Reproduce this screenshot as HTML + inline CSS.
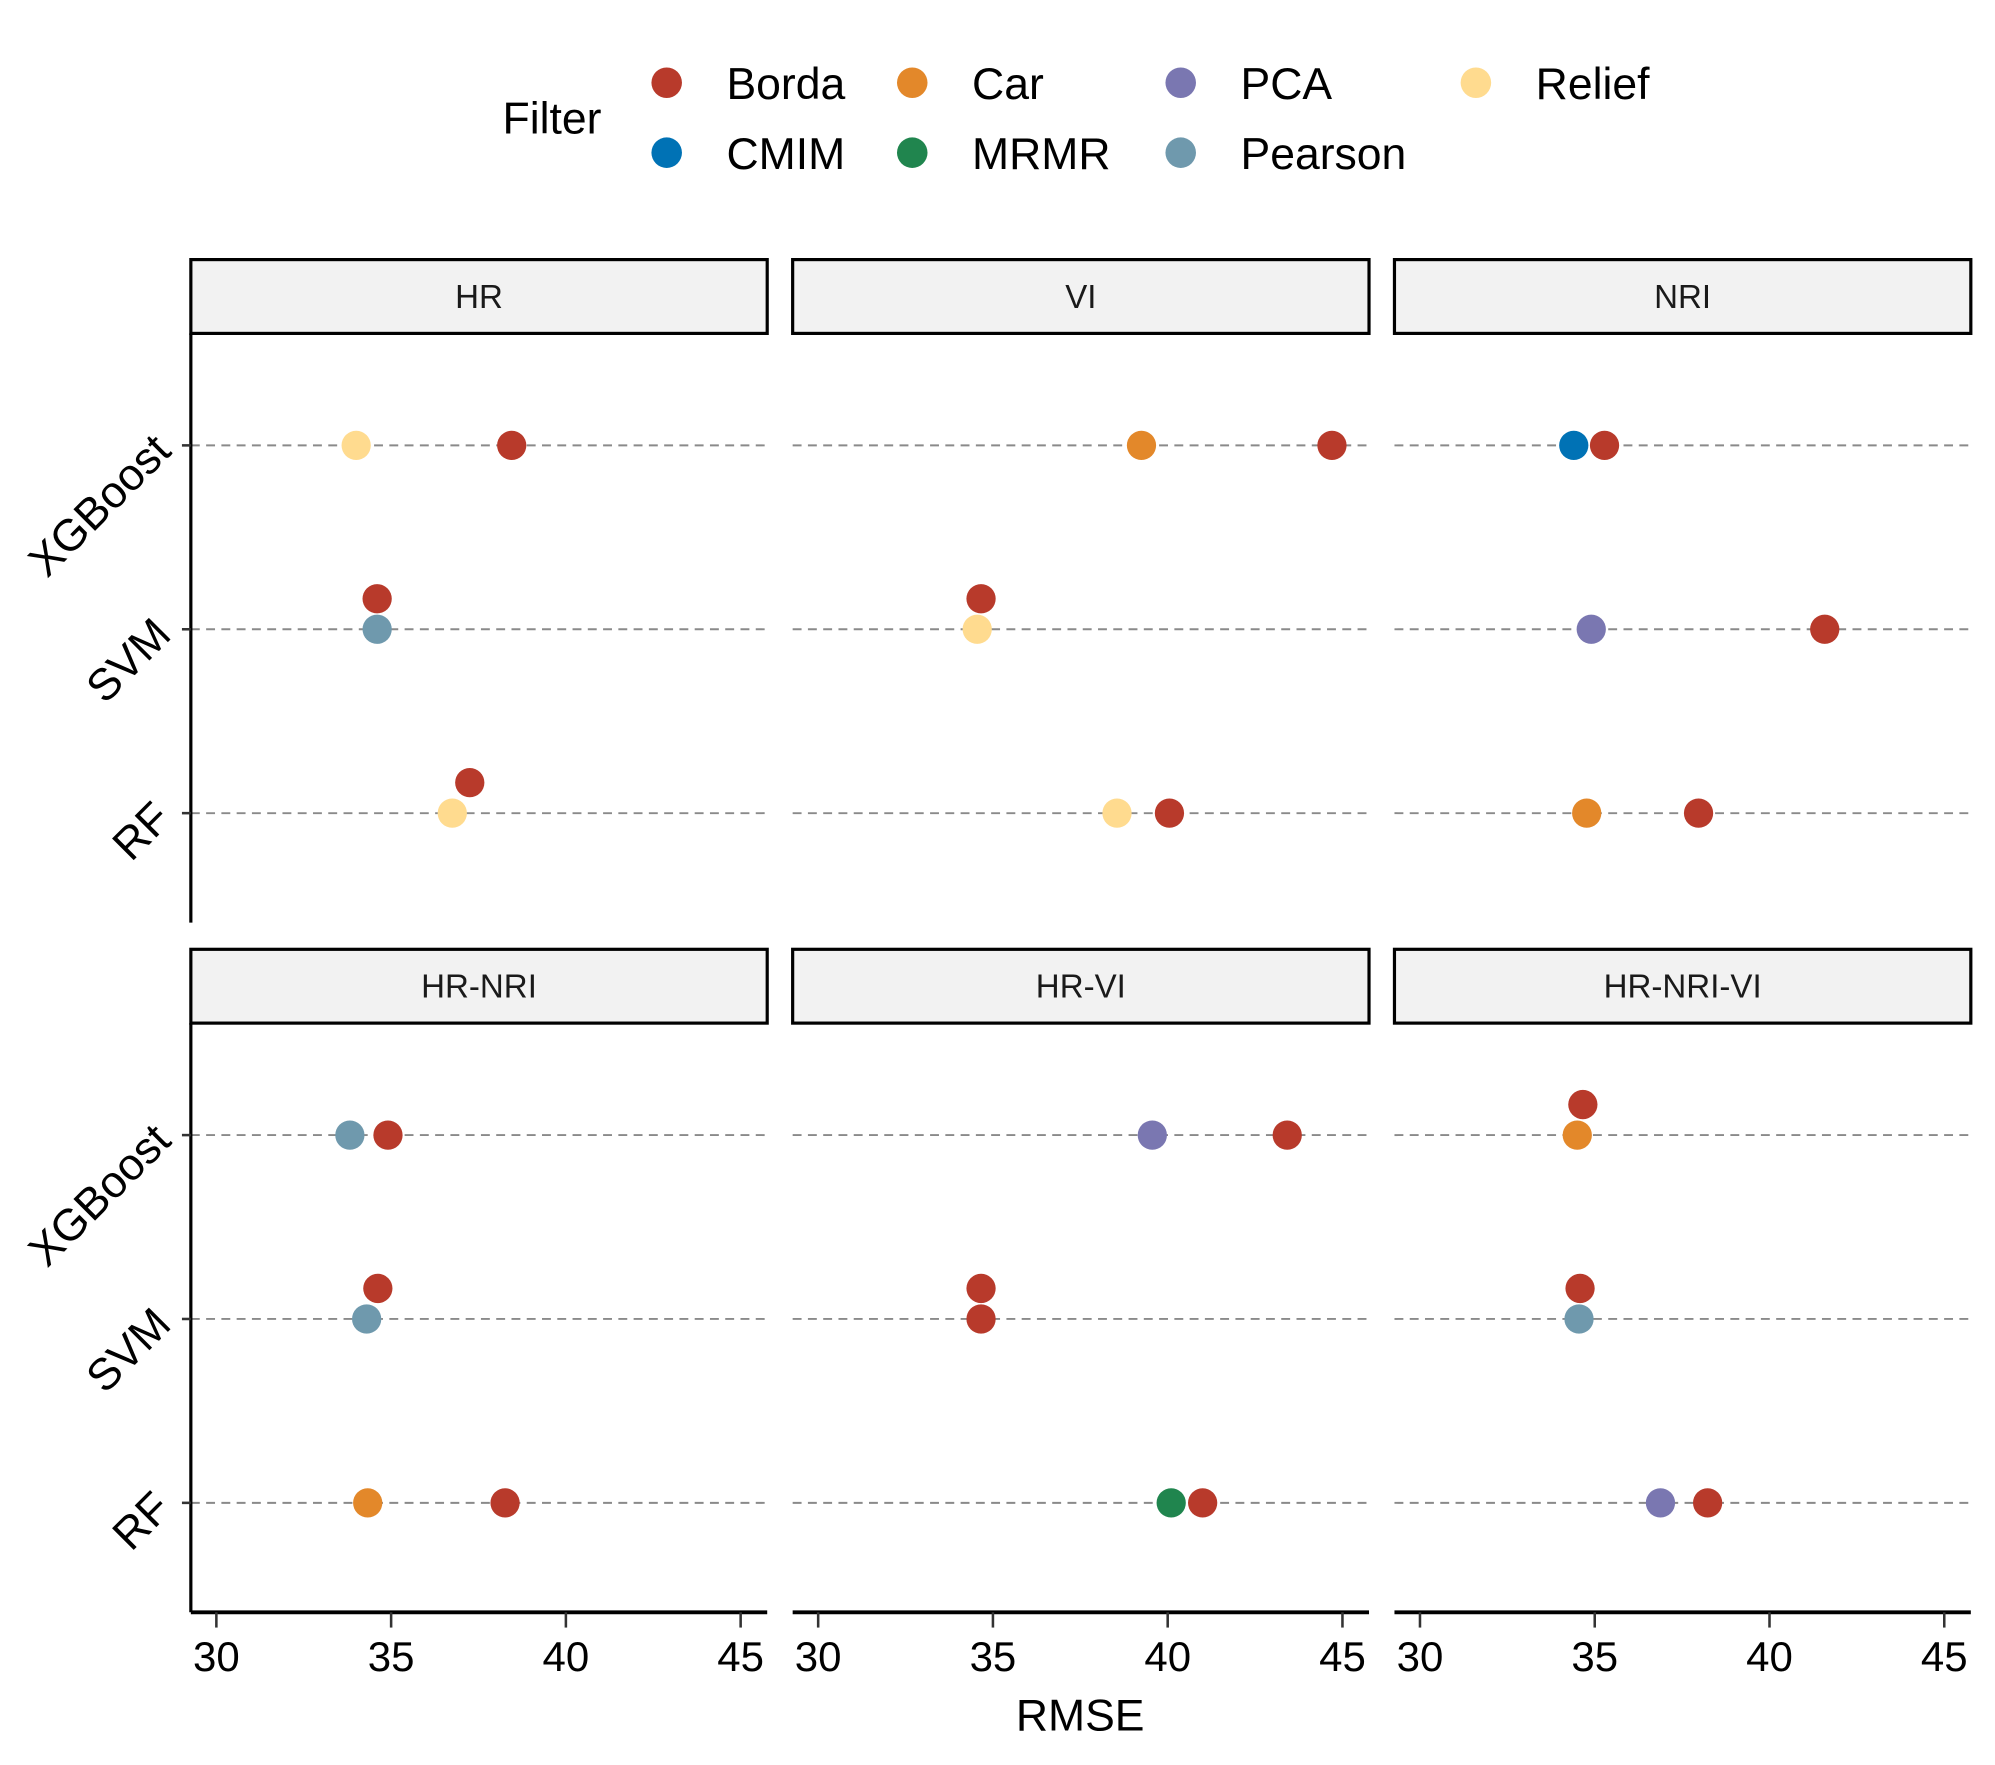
<!DOCTYPE html>
<html><head><meta charset="utf-8"><style>html,body{margin:0;padding:0;background:#fff}svg{display:block;font-family:"Liberation Sans",sans-serif}</style></head>
<body>
<svg id="chart" width="1995" height="1765" viewBox="0 0 1568 1387" preserveAspectRatio="none" xmlns="http://www.w3.org/2000/svg"></svg>
<script>
const panels = ["HR","VI","NRI","HR-NRI","HR-VI","HR-NRI-VI"];
const models = ["XGBoost","SVM","RF"];
const filters = ["Borda","Car","PCA","Relief","CMIM","MRMR","Pearson"];
const filterColors = ["#B83A2B","#E3882A","#7A77B1","#FFDB8F","#0072B5","#20854E","#6F99AD"];
const xTicks = [30,35,40,45];
const ptPanel = ["HR","HR","HR","HR","HR","HR","VI","VI","VI","VI","VI","VI","NRI","NRI","NRI","NRI","NRI","NRI","HR-NRI","HR-NRI","HR-NRI","HR-NRI","HR-NRI","HR-NRI","HR-VI","HR-VI","HR-VI","HR-VI","HR-VI","HR-VI","HR-NRI-VI","HR-NRI-VI","HR-NRI-VI","HR-NRI-VI","HR-NRI-VI","HR-NRI-VI"];
const ptModel = ["XGBoost","XGBoost","SVM","SVM","RF","RF","XGBoost","XGBoost","SVM","SVM","RF","RF","XGBoost","XGBoost","SVM","SVM","RF","RF","XGBoost","XGBoost","SVM","SVM","RF","RF","XGBoost","XGBoost","SVM","SVM","RF","RF","XGBoost","XGBoost","SVM","SVM","RF","RF"];
const ptFilter = ["Relief","Borda","Pearson","Borda","Relief","Borda","Car","Borda","Relief","Borda","Relief","Borda","CMIM","Borda","PCA","Borda","Car","Borda","Pearson","Borda","Pearson","Borda","Car","Borda","PCA","Borda","Borda","Borda","MRMR","Borda","Car","Borda","Pearson","Borda","PCA","Borda"];
const ptRMSE = [34.0,38.45,34.6,34.6,36.75,37.25,39.25,44.7,34.55,34.66,38.55,40.05,34.4,35.28,34.9,41.58,34.77,37.97,33.82,34.91,34.3,34.62,34.33,38.26,39.56,43.42,34.66,34.66,40.1,41.0,34.5,34.66,34.55,34.58,36.88,38.23];

const NS="http://www.w3.org/2000/svg";
const svg=document.getElementById('chart');
function mk(tag,attrs,parent){const e=document.createElementNS(NS,tag);for(const k in attrs)e.setAttribute(k,attrs[k]);(parent||svg).appendChild(e);return e;}
const colX=[150,623,1096], PW=453;
const rowTop=[204,746], stripH=58, PH=463;
const xMin=29.27,xMax=45.76;
function xScale(c,v){return colX[c]+(v-xMin)/(xMax-xMin)*PW;}
function yScale(r,m){return rowTop[r]+stripH+88+models.indexOf(m)*144.5;}

let t=mk('text',{x:395,y:105,'font-size':35,fill:'#000'});t.textContent='Filter';


const legX=[524,717,928,1160];
const legOrder=[["Borda",0,0],["Car",1,0],["PCA",2,0],["Relief",3,0],["CMIM",0,1],["MRMR",1,1],["Pearson",2,1]];
legOrder.forEach(([f,c,r])=>{
  const g=mk('g',{});
  
  
  mk('circle',{cx:legX[c],cy:65+r*55,r:12,fill:filterColors[filters.indexOf(f)]},g);
  const tt=mk('text',{x:legX[c]+47,y:78+r*55,'font-size':35,fill:'#000'},g);tt.textContent=f;
});

panels.forEach((p,i)=>{
  const c=i%3,r=Math.floor(i/3);const x0=colX[c],top=rowTop[r];
  const g=mk('g',{});
  
  
  const s=mk('rect',{x:x0,y:top,width:PW,height:stripH,fill:'#F2F2F2',stroke:'#000','stroke-width':2.5},g);
  
  
  const st=mk('text',{x:x0+PW/2,y:top+38,'font-size':26,'text-anchor':'middle',fill:'#1a1a1a'},g);st.textContent=p;
  const pt=top+stripH;
  models.forEach(m=>{
    const y=yScale(r,m);
    const l=mk('line',{x1:x0,x2:x0+PW,y1:y,y2:y,stroke:'#8a8a8a','stroke-width':1.5,'stroke-dasharray':'7,5'},g);
    
    
  });
  if(c===0){
    mk('line',{x1:x0,x2:x0,y1:pt,y2:pt+PH,stroke:'#000','stroke-width':2.5},g);
    models.forEach(m=>{const y=yScale(r,m);
      mk('line',{x1:x0-7,x2:x0,y1:y,y2:y,stroke:'#333','stroke-width':2},g);
      const lt=mk('text',{x:0,y:0,'font-size':35,'text-anchor':'end',fill:'#000',transform:`translate(${x0-14},${y+6}) rotate(-45)`},g);
      lt.textContent=m;
      
      
    });
  }
  if(r===1){
    const ax=pt+PH;
    mk('line',{x1:x0,x2:x0+PW,y1:ax,y2:ax,stroke:'#000','stroke-width':3},g);
    xTicks.forEach(v=>{const x=xScale(c,v);
      mk('line',{x1:x,x2:x,y1:ax,y2:ax+12,stroke:'#333','stroke-width':2},g);
      const tl=mk('text',{x:x,y:ax+46,'font-size':33,'text-anchor':'middle',fill:'#000'},g);tl.textContent=v;
      
      
    });
  }
});

const placed=[];
ptRMSE.forEach((v,k)=>{
  const p=panels.indexOf(ptPanel[k]);const c=p%3,r=Math.floor(p/3);
  let n=0;placed.forEach(q=>{if(q.p===p&&q.m===ptModel[k]&&Math.abs(q.v-v)<0.8)n++;});
  placed.push({p:p,m:ptModel[k],v:v});
  const cir=mk('circle',{cx:xScale(c,v),cy:yScale(r,ptModel[k])-n*24,r:11.5,fill:filterColors[filters.indexOf(ptFilter[k])]});
  
  
});

const xt=mk('text',{x:849,y:1360,'font-size':35,'text-anchor':'middle',fill:'#000'});xt.textContent='RMSE';


</script>
</body></html>
